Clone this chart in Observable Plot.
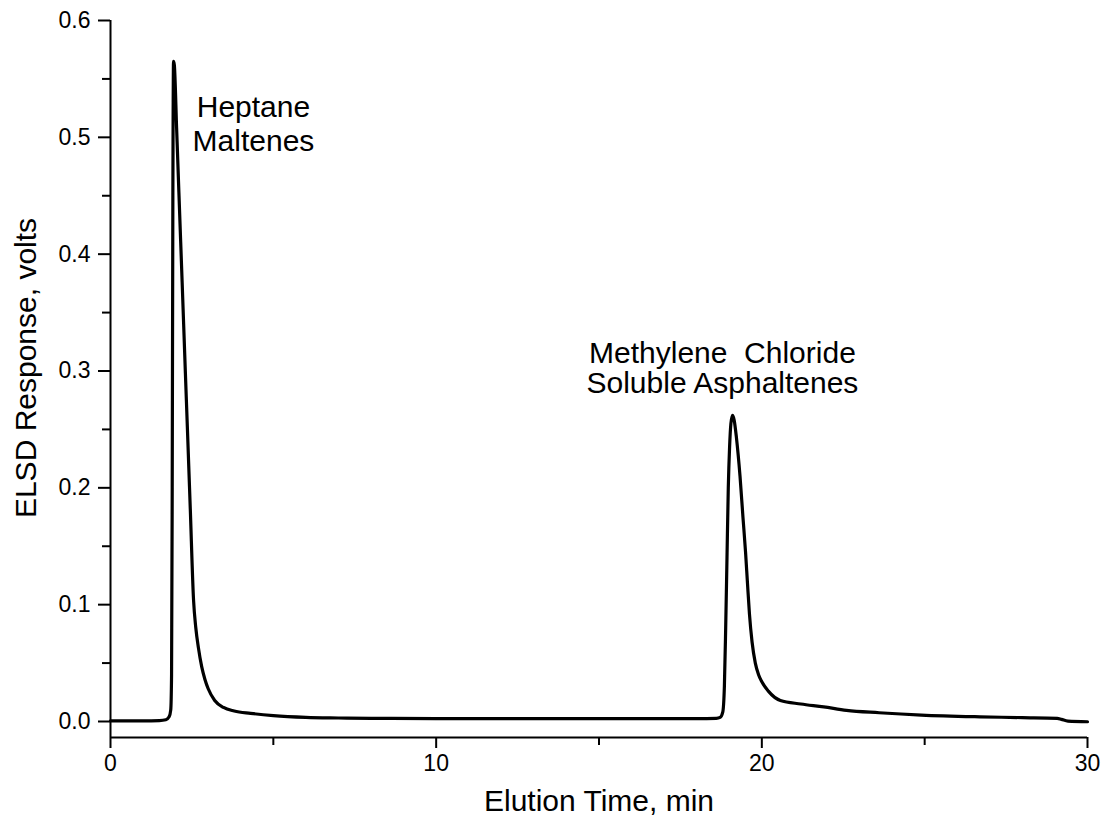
<!DOCTYPE html>
<html>
<head>
<meta charset="utf-8">
<script src="https://cdn.jsdelivr.net/npm/d3@7"></script>
<script src="https://cdn.jsdelivr.net/npm/@observablehq/plot@0.6"></script>
<style>
  html, body { margin: 0; padding: 0; background: #fff; }
  #chart svg { display: block; }
</style>
</head>
<body>
<div id="chart"></div>
<script>
// Elution time (min) and ELSD response (volts)
const time = [0, 0.5, 1.0, 1.5, 1.7, 1.8, 1.85, 1.875, 1.895, 1.915, 1.935, 1.96, 2.03, 2.1, 2.2, 2.3, 2.36, 2.45, 2.55, 2.62, 2.7, 2.8, 2.9, 3.0, 3.2, 3.47, 3.8, 4.3, 5.0, 6.0, 7.0, 8.0, 10, 12, 14, 16, 18, 18.6, 18.72, 18.8, 18.85, 18.89, 18.93, 18.97, 19.01, 19.05, 19.1, 19.15, 19.22, 19.33, 19.42, 19.5, 19.56, 19.62, 19.7, 19.8, 19.9, 20.0, 20.2, 20.57, 21.2, 21.9, 22.6, 23.6, 24.9, 26.7, 28.0, 29.07, 29.2, 29.4, 30];
const response = [0.0006, 0.0006, 0.0006, 0.0008, 0.0015, 0.004, 0.01, 0.04, 0.2, 0.45, 0.565, 0.562, 0.508, 0.453, 0.376, 0.298, 0.252, 0.182, 0.104, 0.08, 0.063, 0.047, 0.036, 0.028, 0.018, 0.012, 0.009, 0.007, 0.005, 0.0035, 0.003, 0.0027, 0.0025, 0.0025, 0.0025, 0.0025, 0.0025, 0.0027, 0.0035, 0.008, 0.03, 0.08, 0.14, 0.2, 0.235, 0.255, 0.262, 0.258, 0.243, 0.21, 0.175, 0.145, 0.118, 0.092, 0.068, 0.05, 0.04, 0.034, 0.026, 0.018, 0.015, 0.0125, 0.0095, 0.0075, 0.0055, 0.004, 0.0033, 0.0027, 0.0018, 0.0003, -0.0002];

// Axis ticks
const xMajor = [0, 10, 20, 30];
const xMinor = [5, 15, 25];
const yMajor = [0, 0.1, 0.2, 0.3, 0.4, 0.5, 0.6];
const yMinor = [0.05, 0.15, 0.25, 0.35, 0.45, 0.55];

// Peak annotations (one entry per text line)
const annoText = ["Heptane", "Maltenes", "Methylene  Chloride", "Soluble Asphaltenes"];
const annoX = [4.39, 4.39, 18.79, 18.79];
const annoY = [0.517, 0.488, 0.307, 0.281];

const xTitle = "Elution Time, min";
const yTitle = "ELSD Response, volts";

const yMin = -0.0137, yMax = 0.6;

const series = time.map((t, i) => ({t, v: response[i]}));
const annos = annoText.map((s, i) => ({s, x: annoX[i], y: annoY[i]}));
const fmtY = d3.format(".1f");
const fmtX = d3.format("d");

const chart = Plot.plot({
  width: 1112,
  height: 823,
  marginTop: 20,
  marginBottom: 86,
  marginLeft: 110,
  marginRight: 25,
  x: {domain: [0, 30]},
  y: {domain: [yMin, yMax]},
  style: {fontFamily: "'Liberation Sans', Arial, Helvetica, sans-serif", color: "#000", background: "#fff"},
  marks: [
    Plot.axisY({ticks: yMajor, tickSize: 12, tickFormat: () => "", label: null, strokeWidth: 2}),
    Plot.axisY({ticks: yMinor, tickSize: 8, tickFormat: () => "", label: null, strokeWidth: 2}),
    Plot.axisX({ticks: xMajor, tickSize: 11, tickFormat: () => "", label: null, strokeWidth: 2}),
    Plot.axisX({ticks: xMinor, tickSize: 8, tickFormat: () => "", label: null, strokeWidth: 2}),
    Plot.text(yMajor, {x: 0, y: d => d, text: d => fmtY(d), textAnchor: "end", dx: -20, fontSize: 23, fill: "#000"}),
    Plot.text(xMajor, {x: d => d, y: yMin, text: d => fmtX(d), lineAnchor: "top", dy: 17, fontSize: 23, fill: "#000"}),
    Plot.ruleX([0], {y1: yMin, y2: yMax, strokeWidth: 2}),
    Plot.ruleY([yMin], {x1: 0, x2: 30, strokeWidth: 2}),
    Plot.line(series, {x: "t", y: "v", curve: "monotone-x", stroke: "#000", strokeWidth: 3.2, strokeLinejoin: "round"}),
    Plot.text(annos, {x: "x", y: "y", text: "s", fontSize: 30, lineAnchor: "bottom", fill: "#000"}),
    Plot.text([xTitle], {frameAnchor: "bottom", textAnchor: "middle", lineAnchor: "bottom", dy: 73, fontSize: 30, fill: "#000"}),
    Plot.text([yTitle], {frameAnchor: "left", textAnchor: "middle", rotate: -90, dx: -84, dy: -11, fontSize: 30, fill: "#000"})
  ]
});
document.getElementById("chart").appendChild(chart);
</script>
</body>
</html>
